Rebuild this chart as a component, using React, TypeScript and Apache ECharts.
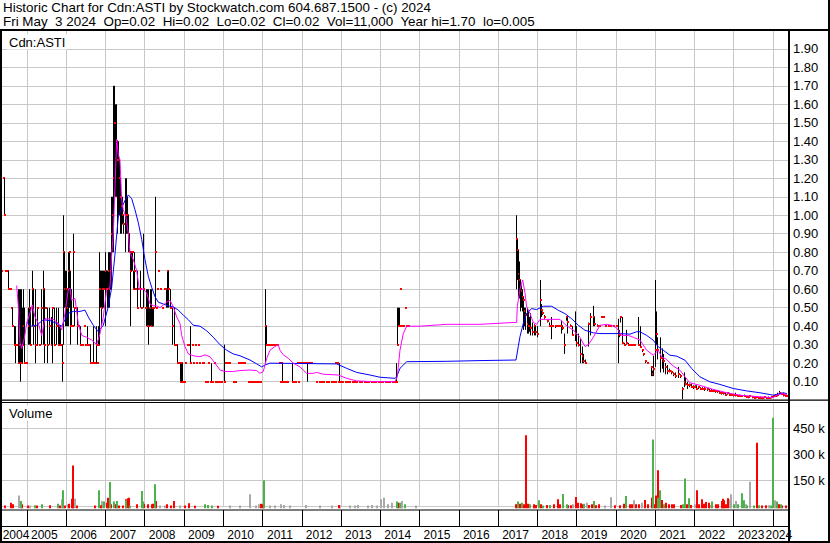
import React, { useEffect, useRef } from "react";
import * as echarts from "echarts";

const FONT = 'Arial, "Liberation Sans", Helvetica, sans-serif';

const TITLE = "Historic Chart for Cdn:ASTI by Stockwatch.com 604.687.1500 - (c) 2024";
const QUOTE_LINE =
  "Fri May  3 2024  Op=0.02  Hi=0.02  Lo=0.02  Cl=0.02  Vol=11,000  Year hi=1.70  lo=0.005";
const SYMBOL = "Cdn:ASTI";
const VOLUME_TITLE = "Volume";

// visible time window (fractional years)
const X_START = 2004.32;
const X_END = 2024.417;

const YEARS = [
  2004, 2005, 2006, 2007, 2008, 2009, 2010, 2011, 2012, 2013, 2014, 2015, 2016, 2017, 2018, 2019,
  2020, 2021, 2022, 2023, 2024,
];

// [time, high, low, close]
const PRICE_BARS: number[][] = [
  [2004.35, 0.8, 0.6, 0.7], [2004.39, 1.2, 1.2, 1.2], [2004.41, 1.2, 1.0, 1.0], [2004.45, 0.7, 0.7, 0.7],
  [2004.5, 0.7, 0.7, 0.7], [2004.52, 0.7, 0.6, 0.6], [2004.57, 0.6, 0.6, 0.6], [2004.6, 0.5, 0.5, 0.5],
  [2004.63, 0.5, 0.4, 0.4], [2004.68, 0.4, 0.3, 0.3], [2004.7, 0.4, 0.2, 0.3], [2004.73, 0.3, 0.3, 0.3],
  [2004.78, 0.6, 0.2, 0.2], [2004.8, 0.6, 0.2, 0.3], [2004.83, 0.6, 0.1, 0.2], [2004.85, 0.6, 0.2, 0.2],
  [2004.88, 0.5, 0.2, 0.3], [2004.91, 0.6, 0.3, 0.4], [2004.93, 0.5, 0.2, 0.2], [2004.98, 0.2, 0.2, 0.2],
  [2005.03, 0.5, 0.3, 0.4], [2005.06, 0.6, 0.3, 0.5], [2005.08, 0.5, 0.3, 0.3], [2005.14, 0.7, 0.4, 0.6],
  [2005.16, 0.6, 0.3, 0.4], [2005.21, 0.6, 0.2, 0.3], [2005.24, 0.3, 0.3, 0.3], [2005.26, 0.5, 0.3, 0.5],
  [2005.31, 0.3, 0.3, 0.3], [2005.36, 0.6, 0.3, 0.5], [2005.39, 0.5, 0.5, 0.5], [2005.41, 0.7, 0.3, 0.6],
  [2005.44, 0.6, 0.2, 0.3], [2005.47, 0.5, 0.5, 0.5], [2005.52, 0.5, 0.2, 0.3], [2005.57, 0.5, 0.3, 0.4],
  [2005.59, 0.4, 0.4, 0.4], [2005.62, 0.45, 0.3, 0.3], [2005.64, 0.5, 0.2, 0.5], [2005.7, 0.5, 0.3, 0.3],
  [2005.75, 0.5, 0.3, 0.4], [2005.8, 0.5, 0.3, 0.3], [2005.82, 0.4, 0.3, 0.4], [2005.85, 0.4, 0.3, 0.3],
  [2005.87, 0.3, 0.3, 0.3], [2005.9, 0.3, 0.1, 0.2], [2005.92, 1.0, 0.3, 0.8], [2005.95, 0.8, 0.5, 0.6],
  [2005.98, 0.7, 0.4, 0.5], [2006.0, 0.7, 0.4, 0.6], [2006.03, 0.6, 0.4, 0.5], [2006.05, 0.8, 0.4, 0.7],
  [2006.08, 0.8, 0.5, 0.8], [2006.1, 0.7, 0.3, 0.4], [2006.13, 0.6, 0.4, 0.4], [2006.15, 0.4, 0.4, 0.4],
  [2006.18, 0.9, 0.5, 0.8], [2006.2, 0.5, 0.4, 0.5], [2006.26, 0.5, 0.5, 0.5], [2006.28, 0.5, 0.3, 0.4],
  [2006.31, 0.4, 0.4, 0.4], [2006.36, 0.4, 0.3, 0.3], [2006.41, 0.3, 0.3, 0.3], [2006.46, 0.4, 0.4, 0.4],
  [2006.48, 0.3, 0.3, 0.3], [2006.54, 0.4, 0.3, 0.3], [2006.59, 0.3, 0.3, 0.3], [2006.61, 0.3, 0.2, 0.2],
  [2006.64, 0.2, 0.2, 0.2], [2006.69, 0.4, 0.2, 0.2], [2006.74, 0.2, 0.2, 0.2], [2006.76, 0.4, 0.2, 0.3],
  [2006.79, 0.2, 0.2, 0.2], [2006.82, 0.4, 0.3, 0.3], [2006.84, 0.8, 0.3, 0.6], [2006.87, 0.7, 0.5, 0.6],
  [2006.89, 0.7, 0.4, 0.5], [2006.92, 0.7, 0.5, 0.6], [2006.94, 0.7, 0.5, 0.6], [2006.97, 0.7, 0.6, 0.6],
  [2006.99, 0.8, 0.4, 0.7], [2007.02, 0.7, 0.6, 0.6], [2007.05, 0.7, 0.5, 0.6], [2007.07, 0.8, 0.5, 0.7],
  [2007.1, 0.8, 0.5, 0.6], [2007.12, 0.8, 0.6, 0.7], [2007.15, 1.1, 0.6, 0.9], [2007.17, 1.1, 0.8, 1.0],
  [2007.2, 1.7, 0.8, 1.2], [2007.22, 1.7, 1.1, 1.5], [2007.25, 1.6, 1.1, 1.5], [2007.27, 1.6, 1.1, 1.4],
  [2007.3, 1.4, 0.9, 1.3], [2007.33, 1.4, 1.0, 1.3], [2007.35, 1.3, 1.0, 1.2], [2007.38, 1.2, 0.9, 1.1],
  [2007.4, 1.1, 0.9, 1.05], [2007.43, 1.1, 0.95, 1.0], [2007.45, 1.0, 0.9, 0.95], [2007.5, 1.2, 0.8, 1.0],
  [2007.53, 1.2, 0.9, 1.0], [2007.55, 1.1, 0.9, 1.0], [2007.58, 1.0, 0.8, 0.9], [2007.61, 0.9, 0.8, 0.8],
  [2007.63, 0.8, 0.4, 0.7], [2007.66, 0.8, 0.7, 0.8], [2007.68, 0.8, 0.7, 0.8], [2007.71, 0.7, 0.6, 0.6],
  [2007.73, 0.8, 0.6, 0.7], [2007.76, 0.6, 0.6, 0.6], [2007.81, 0.7, 0.5, 0.5], [2007.84, 0.6, 0.6, 0.6],
  [2007.89, 0.7, 0.5, 0.6], [2007.91, 0.5, 0.5, 0.5], [2007.96, 0.9, 0.5, 0.6], [2008.01, 0.5, 0.5, 0.5],
  [2008.04, 0.6, 0.4, 0.5], [2008.06, 0.6, 0.4, 0.4], [2008.09, 0.6, 0.3, 0.4], [2008.12, 0.5, 0.4, 0.5],
  [2008.14, 0.6, 0.4, 0.5], [2008.17, 0.6, 0.4, 0.4], [2008.19, 0.5, 0.4, 0.5], [2008.22, 0.5, 0.4, 0.5],
  [2008.27, 1.1, 0.5, 0.8], [2008.29, 0.5, 0.5, 0.5], [2008.32, 0.6, 0.6, 0.6], [2008.34, 0.7, 0.7, 0.7],
  [2008.4, 0.6, 0.6, 0.6], [2008.45, 0.5, 0.5, 0.5], [2008.5, 0.6, 0.6, 0.6], [2008.55, 0.6, 0.5, 0.6],
  [2008.57, 0.7, 0.5, 0.7], [2008.6, 0.7, 0.5, 0.6], [2008.65, 0.6, 0.5, 0.5], [2008.7, 0.5, 0.3, 0.4],
  [2008.73, 0.4, 0.4, 0.4], [2008.75, 0.5, 0.3, 0.3], [2008.8, 0.3, 0.3, 0.3], [2008.83, 0.3, 0.2, 0.2],
  [2008.88, 0.2, 0.2, 0.2], [2008.9, 0.2, 0.1, 0.1], [2008.93, 0.2, 0.1, 0.2], [2008.96, 0.2, 0.1, 0.1],
  [2009.01, 0.1, 0.1, 0.1], [2009.04, 0.2, 0.2, 0.2], [2009.08, 0.3, 0.3, 0.3], [2009.12, 0.3, 0.3, 0.3],
  [2009.16, 0.4, 0.2, 0.2], [2009.2, 0.3, 0.3, 0.3], [2009.24, 0.2, 0.2, 0.2], [2009.29, 0.3, 0.3, 0.3],
  [2009.32, 0.2, 0.2, 0.2], [2009.36, 0.3, 0.3, 0.3], [2009.4, 0.2, 0.2, 0.2], [2009.46, 0.2, 0.2, 0.2],
  [2009.5, 0.2, 0.2, 0.2], [2009.54, 0.1, 0.1, 0.1], [2009.59, 0.1, 0.1, 0.1], [2009.63, 0.2, 0.2, 0.2],
  [2009.67, 0.1, 0.1, 0.1], [2009.69, 0.2, 0.1, 0.1], [2009.72, 0.1, 0.1, 0.1], [2009.77, 0.2, 0.2, 0.2],
  [2009.8, 0.1, 0.1, 0.1], [2009.85, 0.1, 0.1, 0.1], [2009.9, 0.1, 0.1, 0.1], [2009.95, 0.1, 0.1, 0.1],
  [2010.03, 0.3, 0.1, 0.1], [2010.05, 0.2, 0.2, 0.2], [2010.1, 0.2, 0.2, 0.2], [2010.15, 0.2, 0.2, 0.2],
  [2010.25, 0.1, 0.1, 0.1], [2010.31, 0.1, 0.1, 0.1], [2010.38, 0.2, 0.2, 0.2], [2010.43, 0.2, 0.2, 0.2],
  [2010.48, 0.2, 0.2, 0.2], [2010.53, 0.2, 0.2, 0.2], [2010.64, 0.1, 0.1, 0.1], [2010.69, 0.1, 0.1, 0.1],
  [2010.74, 0.1, 0.1, 0.1], [2010.79, 0.1, 0.1, 0.1], [2010.84, 0.1, 0.1, 0.1], [2010.89, 0.1, 0.1, 0.1],
  [2010.94, 0.1, 0.1, 0.1], [2011.07, 0.6, 0.2, 0.4], [2011.1, 0.4, 0.3, 0.3], [2011.13, 0.3, 0.3, 0.3],
  [2011.17, 0.3, 0.3, 0.3], [2011.22, 0.3, 0.3, 0.3], [2011.27, 0.3, 0.3, 0.3], [2011.32, 0.3, 0.3, 0.3],
  [2011.38, 0.3, 0.3, 0.3], [2011.43, 0.2, 0.2, 0.2], [2011.45, 0.1, 0.1, 0.1], [2011.48, 0.2, 0.2, 0.2],
  [2011.5, 0.2, 0.1, 0.1], [2011.54, 0.1, 0.1, 0.1], [2011.58, 0.1, 0.1, 0.1], [2011.62, 0.1, 0.1, 0.1],
  [2011.76, 0.2, 0.1, 0.1], [2011.8, 0.1, 0.1, 0.1], [2011.84, 0.1, 0.1, 0.1], [2011.89, 0.2, 0.2, 0.2],
  [2011.92, 0.1, 0.1, 0.1], [2011.94, 0.2, 0.2, 0.2], [2011.99, 0.2, 0.2, 0.2], [2012.04, 0.2, 0.2, 0.2],
  [2012.09, 0.2, 0.2, 0.2], [2012.14, 0.2, 0.1, 0.2], [2012.19, 0.2, 0.2, 0.2], [2012.24, 0.2, 0.2, 0.2],
  [2012.38, 0.1, 0.1, 0.1], [2012.44, 0.1, 0.1, 0.1], [2012.5, 0.1, 0.1, 0.1], [2012.56, 0.1, 0.1, 0.1],
  [2012.62, 0.1, 0.1, 0.1], [2012.68, 0.1, 0.1, 0.1], [2012.74, 0.1, 0.1, 0.1], [2012.8, 0.1, 0.1, 0.1],
  [2012.85, 0.2, 0.2, 0.2], [2012.86, 0.1, 0.1, 0.1], [2012.9, 0.2, 0.2, 0.2], [2012.92, 0.1, 0.1, 0.1],
  [2012.95, 0.2, 0.1, 0.1], [2012.98, 0.1, 0.1, 0.1], [2013.04, 0.1, 0.1, 0.1], [2013.1, 0.1, 0.1, 0.1],
  [2013.16, 0.1, 0.1, 0.1], [2013.22, 0.1, 0.1, 0.1], [2013.28, 0.1, 0.1, 0.1], [2013.34, 0.1, 0.1, 0.1],
  [2013.4, 0.1, 0.1, 0.1], [2013.46, 0.1, 0.1, 0.1], [2013.52, 0.1, 0.1, 0.1], [2013.58, 0.1, 0.1, 0.1],
  [2013.64, 0.1, 0.1, 0.1], [2013.7, 0.1, 0.1, 0.1], [2013.76, 0.1, 0.1, 0.1], [2013.82, 0.1, 0.1, 0.1],
  [2013.88, 0.1, 0.1, 0.1], [2013.94, 0.1, 0.1, 0.1], [2014.0, 0.1, 0.1, 0.1], [2014.06, 0.1, 0.1, 0.1],
  [2014.12, 0.1, 0.1, 0.1], [2014.18, 0.1, 0.1, 0.1], [2014.24, 0.1, 0.1, 0.1], [2014.3, 0.1, 0.1, 0.1],
  [2014.36, 0.1, 0.1, 0.1], [2014.41, 0.2, 0.1, 0.1], [2014.43, 0.5, 0.3, 0.3], [2014.46, 0.5, 0.4, 0.4],
  [2014.48, 0.5, 0.4, 0.4], [2014.5, 0.6, 0.6, 0.6], [2014.53, 0.4, 0.4, 0.4], [2014.58, 0.4, 0.4, 0.4],
  [2014.64, 0.5, 0.5, 0.5], [2014.66, 0.4, 0.4, 0.4], [2014.71, 0.4, 0.4, 0.4],
  [2017.46, 1.0, 0.6, 0.87], [2017.48, 0.87, 0.65, 0.81], [2017.51, 0.81, 0.56, 0.68], [2017.53, 0.75, 0.55, 0.65],
  [2017.56, 0.65, 0.48, 0.61], [2017.59, 0.62, 0.5, 0.59], [2017.61, 0.6, 0.48, 0.56], [2017.64, 0.56, 0.38, 0.54],
  [2017.67, 0.5, 0.4, 0.48], [2017.7, 0.5, 0.38, 0.46], [2017.74, 0.5, 0.36, 0.41], [2017.77, 0.48, 0.36, 0.4],
  [2017.8, 0.45, 0.37, 0.4], [2017.83, 0.47, 0.35, 0.39], [2017.86, 0.42, 0.35, 0.37], [2017.92, 0.41, 0.35, 0.4],
  [2017.95, 0.4, 0.35, 0.37], [2017.99, 0.4, 0.34, 0.36], [2018.07, 0.65, 0.4, 0.54], [2018.1, 0.52, 0.45, 0.49],
  [2018.13, 0.48, 0.46, 0.47], [2018.18, 0.46, 0.44, 0.45], [2018.25, 0.43, 0.42, 0.43], [2018.31, 0.42, 0.4, 0.4],
  [2018.35, 0.45, 0.33, 0.4], [2018.39, 0.4, 0.4, 0.4], [2018.45, 0.4, 0.39, 0.4], [2018.51, 0.4, 0.4, 0.4],
  [2018.56, 0.4, 0.4, 0.4], [2018.6, 0.43, 0.36, 0.4], [2018.64, 0.4, 0.38, 0.39], [2018.69, 0.36, 0.25, 0.3],
  [2018.74, 0.45, 0.43, 0.45], [2018.77, 0.45, 0.36, 0.42], [2018.84, 0.41, 0.4, 0.4], [2018.9, 0.4, 0.35, 0.35],
  [2018.97, 0.48, 0.32, 0.36], [2019.0, 0.4, 0.29, 0.31], [2019.04, 0.36, 0.29, 0.3], [2019.09, 0.33, 0.2, 0.25],
  [2019.14, 0.29, 0.2, 0.24], [2019.18, 0.25, 0.2, 0.21], [2019.22, 0.22, 0.2, 0.2], [2019.3, 0.42, 0.29, 0.41],
  [2019.35, 0.47, 0.35, 0.45], [2019.43, 0.51, 0.4, 0.45], [2019.46, 0.45, 0.4, 0.41], [2019.53, 0.41, 0.4, 0.4],
  [2019.59, 0.4, 0.4, 0.4], [2019.62, 0.45, 0.45, 0.45], [2019.67, 0.45, 0.45, 0.45], [2019.73, 0.4, 0.4, 0.4],
  [2019.8, 0.4, 0.4, 0.4], [2019.87, 0.4, 0.4, 0.4], [2019.93, 0.4, 0.4, 0.4], [2020.0, 0.4, 0.4, 0.4],
  [2020.06, 0.44, 0.2, 0.36], [2020.09, 0.38, 0.34, 0.35], [2020.12, 0.45, 0.42, 0.45], [2020.16, 0.45, 0.31, 0.31],
  [2020.21, 0.31, 0.3, 0.3], [2020.26, 0.38, 0.3, 0.31], [2020.32, 0.31, 0.3, 0.3], [2020.37, 0.3, 0.3, 0.3],
  [2020.42, 0.3, 0.3, 0.3], [2020.47, 0.3, 0.3, 0.3], [2020.57, 0.45, 0.3, 0.3], [2020.62, 0.4, 0.29, 0.29],
  [2020.67, 0.27, 0.26, 0.27], [2020.7, 0.25, 0.24, 0.25], [2020.74, 0.21, 0.2, 0.21], [2020.8, 0.2, 0.2, 0.2],
  [2020.9, 0.18, 0.13, 0.18], [2020.93, 0.16, 0.13, 0.14], [2020.96, 0.24, 0.13, 0.17], [2021.01, 0.65, 0.18, 0.27],
  [2021.04, 0.48, 0.3, 0.36], [2021.06, 0.34, 0.22, 0.27], [2021.12, 0.34, 0.15, 0.23], [2021.17, 0.28, 0.17, 0.22],
  [2021.22, 0.25, 0.15, 0.21], [2021.27, 0.2, 0.14, 0.18], [2021.32, 0.19, 0.14, 0.16], [2021.37, 0.17, 0.15, 0.16],
  [2021.42, 0.16, 0.14, 0.15], [2021.47, 0.15, 0.13, 0.14], [2021.52, 0.15, 0.12, 0.13], [2021.58, 0.18, 0.12, 0.14],
  [2021.63, 0.14, 0.12, 0.13], [2021.69, 0.07, 0.005, 0.06], [2021.74, 0.15, 0.07, 0.1], [2021.77, 0.12, 0.08, 0.09],
  [2021.82, 0.1, 0.06, 0.08], [2021.86, 0.09, 0.07, 0.08], [2021.91, 0.09, 0.07, 0.07], [2021.96, 0.08, 0.06, 0.07],
  [2022.01, 0.08, 0.07, 0.07], [2022.06, 0.08, 0.06, 0.06], [2022.11, 0.07, 0.06, 0.07], [2022.16, 0.07, 0.06, 0.06],
  [2022.21, 0.07, 0.06, 0.06], [2022.26, 0.07, 0.05, 0.06], [2022.32, 0.06, 0.05, 0.06], [2022.37, 0.06, 0.05, 0.05],
  [2022.42, 0.06, 0.05, 0.05], [2022.47, 0.06, 0.05, 0.05], [2022.53, 0.05, 0.04, 0.05], [2022.58, 0.05, 0.04, 0.05],
  [2022.63, 0.05, 0.04, 0.04], [2022.68, 0.05, 0.03, 0.04], [2022.73, 0.04, 0.03, 0.04], [2022.79, 0.04, 0.03, 0.03],
  [2022.84, 0.04, 0.03, 0.04], [2022.89, 0.04, 0.03, 0.03], [2022.94, 0.03, 0.03, 0.03], [2023.0, 0.03, 0.02, 0.03],
  [2023.05, 0.04, 0.02, 0.03], [2023.1, 0.03, 0.02, 0.02], [2023.15, 0.03, 0.02, 0.02], [2023.2, 0.02, 0.015, 0.02],
  [2023.26, 0.03, 0.02, 0.02], [2023.31, 0.02, 0.015, 0.015], [2023.36, 0.02, 0.01, 0.015], [2023.41, 0.02, 0.015, 0.02],
  [2023.47, 0.02, 0.01, 0.015], [2023.52, 0.02, 0.01, 0.01], [2023.57, 0.02, 0.01, 0.015], [2023.62, 0.015, 0.01, 0.01],
  [2023.67, 0.02, 0.01, 0.01], [2023.72, 0.015, 0.005, 0.01], [2023.77, 0.02, 0.01, 0.015], [2023.82, 0.015, 0.01, 0.01],
  [2023.87, 0.02, 0.01, 0.01], [2023.92, 0.015, 0.01, 0.01], [2023.97, 0.02, 0.01, 0.015], [2024.02, 0.02, 0.015, 0.02],
  [2024.07, 0.03, 0.02, 0.025], [2024.12, 0.04, 0.02, 0.03], [2024.17, 0.05, 0.03, 0.04], [2024.22, 0.04, 0.03, 0.035],
  [2024.27, 0.04, 0.02, 0.03], [2024.31, 0.03, 0.02, 0.02], [2024.34, 0.02, 0.02, 0.02],
];

// short moving average (magenta)
const MA_SHORT: number[][] = [
  [2004.745, 0.62], [2004.786, 0.51], [2004.829, 0.31], [2004.873, 0.28], [2004.931, 0.325], [2005.0, 0.415],
  [2005.084, 0.47], [2005.143, 0.515], [2005.211, 0.45], [2005.296, 0.415], [2005.382, 0.35], [2005.466, 0.44],
  [2005.55, 0.44], [2005.678, 0.437], [2005.805, 0.415], [2005.891, 0.38], [2005.976, 0.47], [2006.06, 0.6],
  [2006.103, 0.605], [2006.146, 0.54], [2006.23, 0.55], [2006.314, 0.415], [2006.401, 0.35], [2006.528, 0.34],
  [2006.656, 0.325], [2006.783, 0.3], [2006.867, 0.36], [2006.951, 0.45], [2007.038, 0.6], [2007.122, 0.61],
  [2007.165, 0.79], [2007.206, 0.9], [2007.249, 1.15], [2007.292, 1.41], [2007.333, 1.33], [2007.376, 1.3],
  [2007.42, 1.08], [2007.46, 1.03], [2007.529, 0.99], [2007.588, 0.9], [2007.631, 0.8], [2007.715, 0.76],
  [2007.802, 0.7], [2007.868, 0.6], [2007.97, 0.6], [2008.056, 0.58], [2008.141, 0.52], [2008.225, 0.51],
  [2008.311, 0.51], [2008.395, 0.5], [2008.479, 0.515], [2008.566, 0.53], [2008.65, 0.54], [2008.734, 0.505],
  [2008.82, 0.45], [2008.905, 0.415], [2008.948, 0.35], [2009.032, 0.29], [2009.116, 0.25], [2009.243, 0.24],
  [2009.414, 0.235], [2009.541, 0.245], [2009.669, 0.235], [2009.796, 0.2], [2009.923, 0.163], [2010.051, 0.155],
  [2010.262, 0.155], [2010.433, 0.16], [2010.688, 0.163], [2010.858, 0.16], [2010.942, 0.145], [2011.026, 0.155],
  [2011.113, 0.226], [2011.197, 0.27], [2011.324, 0.29], [2011.408, 0.3], [2011.452, 0.27], [2011.536, 0.245],
  [2011.663, 0.226], [2011.79, 0.2], [2011.961, 0.18], [2012.132, 0.145], [2012.3, 0.145], [2012.387, 0.15],
  [2012.555, 0.14], [2012.937, 0.136], [2013.151, 0.118], [2013.405, 0.104], [2013.828, 0.1], [2014.381, 0.1],
  [2014.44, 0.127], [2014.508, 0.27], [2014.592, 0.36], [2014.679, 0.4], [2015.018, 0.4], [2015.698, 0.41],
  [2016.546, 0.41], [2017.394, 0.42], [2017.48, 0.42], [2017.496, 0.505], [2017.564, 0.6], [2017.633, 0.65],
  [2017.692, 0.58], [2017.735, 0.505], [2017.819, 0.47], [2017.904, 0.42], [2017.99, 0.41], [2018.074, 0.437],
  [2018.583, 0.437], [2018.71, 0.41], [2018.838, 0.39], [2018.922, 0.38], [2019.093, 0.34], [2019.22, 0.29],
  [2019.305, 0.3], [2019.432, 0.34], [2019.602, 0.405], [2019.773, 0.41], [2019.9, 0.405], [2020.028, 0.39],
  [2020.155, 0.35], [2020.323, 0.35], [2020.451, 0.34], [2020.621, 0.325], [2020.792, 0.27], [2020.96, 0.243],
  [2021.087, 0.27], [2021.174, 0.234], [2021.301, 0.22], [2021.47, 0.184], [2021.639, 0.162], [2021.767, 0.126],
  [2021.894, 0.094], [2022.149, 0.08], [2022.488, 0.058], [2022.829, 0.04], [2023.168, 0.027], [2023.677, 0.018],
  [2024.016, 0.013], [2024.103, 0.027], [2024.271, 0.036], [2024.364, 0.03],
];

// long moving average (blue)
const MA_LONG: number[][] = [
  [2005.0, 0.42], [2005.041, 0.415], [2005.127, 0.4], [2005.255, 0.405], [2005.423, 0.435], [2005.594, 0.43],
  [2005.764, 0.415], [2005.891, 0.4], [2005.976, 0.435], [2006.06, 0.47], [2006.187, 0.48], [2006.358, 0.48],
  [2006.485, 0.487], [2006.569, 0.45], [2006.696, 0.405], [2006.824, 0.37], [2006.951, 0.405], [2007.078, 0.505],
  [2007.165, 0.61], [2007.249, 0.79], [2007.333, 0.99], [2007.42, 1.04], [2007.504, 1.08], [2007.588, 1.11],
  [2007.674, 1.09], [2007.758, 1.03], [2007.843, 0.96], [2007.929, 0.87], [2008.013, 0.76], [2008.097, 0.67],
  [2008.184, 0.61], [2008.268, 0.56], [2008.352, 0.53], [2008.479, 0.52], [2008.607, 0.51], [2008.734, 0.505],
  [2008.861, 0.487], [2008.989, 0.46], [2009.116, 0.435], [2009.243, 0.405], [2009.414, 0.4], [2009.585, 0.375],
  [2009.753, 0.34], [2009.923, 0.3], [2010.094, 0.27], [2010.262, 0.25], [2010.433, 0.24], [2010.688, 0.217],
  [2010.858, 0.196], [2010.986, 0.18], [2011.07, 0.19], [2011.197, 0.2], [2012.896, 0.196], [2013.151, 0.172],
  [2013.405, 0.15], [2013.744, 0.136], [2013.999, 0.124], [2014.381, 0.118], [2014.424, 0.127], [2014.508, 0.172],
  [2014.679, 0.208], [2015.698, 0.21], [2016.546, 0.214], [2017.463, 0.217], [2017.521, 0.29], [2017.564, 0.343],
  [2017.649, 0.415], [2017.735, 0.47], [2017.862, 0.495], [2017.99, 0.49], [2018.158, 0.508], [2018.372, 0.508],
  [2018.54, 0.486], [2018.71, 0.468], [2018.881, 0.44], [2019.049, 0.405], [2019.22, 0.378], [2019.432, 0.364],
  [2019.602, 0.36], [2020.111, 0.36], [2020.366, 0.357], [2020.537, 0.37], [2020.621, 0.37], [2020.792, 0.35],
  [2020.96, 0.324], [2021.087, 0.288], [2021.215, 0.27], [2021.385, 0.243], [2021.555, 0.238], [2021.767, 0.216],
  [2021.938, 0.171], [2022.149, 0.126], [2022.404, 0.099], [2022.658, 0.085], [2022.997, 0.063], [2023.338, 0.05],
  [2023.677, 0.04], [2024.016, 0.027], [2024.271, 0.04], [2024.364, 0.035],
];

// daily volume in thousands of shares: [time, volume]
const VOLUME_DOWN: number[][] = [
  [2004.45, 5], [2004.6, 20], [2004.66, 12], [2004.88, 12], [2005.03, 4], [2005.26, 4], [2005.59, 6],
  [2005.85, 4], [2005.98, 4], [2006.08, 15], [2006.15, 44], [2006.19, 236], [2006.28, 4], [2006.74, 4],
  [2006.89, 6], [2007.04, 20], [2007.06, 50], [2007.16, 12], [2007.27, 12], [2007.35, 4], [2007.45, 4],
  [2007.52, 40], [2007.57, 46], [2007.6, 50], [2007.82, 12], [2008.0, 15], [2008.09, 12], [2008.18, 12],
  [2008.22, 15], [2008.29, 30], [2008.57, 12], [2008.68, 4], [2008.75, 30], [2009.03, 4], [2009.13, 17],
  [2009.29, 3], [2009.87, 3], [2010.97, 14], [2011.02, 12], [2012.95, 8], [2014.46, 21], [2017.46, 12],
  [2017.56, 15], [2017.67, 12], [2017.73, 410], [2017.77, 15], [2017.92, 12], [2017.97, 8], [2018.1, 12],
  [2018.25, 8], [2018.43, 12], [2018.53, 40], [2018.58, 12], [2018.79, 6], [2018.86, 6], [2018.99, 54],
  [2019.04, 21], [2019.12, 17], [2019.17, 12], [2019.32, 8], [2019.4, 12], [2019.5, 6], [2019.58, 12],
  [2019.98, 6], [2020.11, 6], [2020.21, 15], [2020.37, 12], [2020.42, 12], [2020.52, 12], [2020.6, 12],
  [2020.75, 36], [2020.83, 12], [2020.92, 50], [2021.0, 12], [2021.04, 63], [2021.09, 208], [2021.18, 36],
  [2021.28, 21], [2021.36, 12], [2021.44, 12], [2021.49, 12], [2021.67, 8], [2021.82, 12], [2021.92, 8],
  [2022.07, 92], [2022.12, 12], [2022.2, 40], [2022.25, 15], [2022.3, 25], [2022.38, 21], [2022.56, 12],
  [2022.61, 12], [2022.7, 30], [2022.73, 44], [2022.77, 35], [2022.81, 12], [2022.86, 46], [2023.59, 367],
  [2023.73, 4], [2023.83, 6], [2024.16, 12], [2024.24, 4], [2024.34, 4],
];

const VOLUME_UP: number[][] = [
  [2004.85, 30], [2005.21, 6], [2005.38, 12], [2005.8, 15], [2005.92, 92], [2006.84, 92], [2006.97, 27],
  [2007.12, 140], [2007.22, 27], [2007.29, 30], [2007.53, 35], [2007.63, 3], [2007.94, 88], [2007.97, 27],
  [2008.27, 127], [2009.54, 12], [2009.62, 8], [2009.72, 4], [2011.04, 150], [2014.43, 27], [2014.51, 21],
  [2014.64, 12], [2017.51, 27], [2017.61, 21], [2017.82, 12], [2018.05, 35], [2018.15, 4], [2018.33, 8],
  [2018.66, 71], [2018.76, 12], [2019.19, 15], [2019.45, 30], [2020.26, 60], [2020.96, 386], [2021.07, 50],
  [2021.13, 92], [2021.23, 12], [2021.72, 12], [2021.77, 161], [2021.87, 46], [2022.45, 27], [2023.01, 12],
  [2023.13, 12], [2023.21, 75], [2023.27, 35], [2023.35, 4], [2023.53, 4], [2023.65, 6], [2023.96, 4],
  [2024.02, 511], [2024.11, 27], [2024.21, 12],
];

const VOLUME_FLAT: number[][] = [
  [2004.8, 63], [2005.08, 4], [2005.89, 40], [2006.05, 12], [2006.17, 44], [2006.24, 44], [2006.92, 30],
  [2007.1, 35], [2008.4, 4], [2008.52, 4], [2008.9, 4], [2010.18, 4], [2010.43, 4], [2010.69, 70],
  [2010.84, 4], [2010.92, 12], [2011.01, 12], [2011.2, 4], [2011.32, 4], [2011.48, 12], [2011.55, 8],
  [2011.71, 4], [2012.11, 8], [2012.47, 4], [2012.78, 4], [2012.98, 4], [2013.23, 4], [2013.36, 4],
  [2013.44, 8], [2013.69, 4], [2013.79, 8], [2013.92, 4], [2014.02, 40], [2014.1, 50], [2014.2, 12],
  [2014.3, 21], [2014.55, 30], [2014.57, 27], [2014.92, 4], [2017.49, 12], [2017.92, 4], [2018.91, 12],
  [2019.27, 21], [2019.73, 4], [2019.88, 52], [2020.47, 35], [2020.67, 21], [2022.02, 12], [2022.4, 8],
  [2022.92, 40], [2022.95, 69], [2023.06, 30], [2023.32, 12], [2023.42, 142], [2023.91, 6], [2024.06, 35],
  [2024.14, 12],
];

function App() {
  const ref = useRef<HTMLDivElement>(null);

  useEffect(() => {
    document.body.style.margin = "0";
    const chart = echarts.init(ref.current!, null, { renderer: "svg" });

    const xAxisFor = (gridIndex: number) => ({
      type: "value",
      gridIndex,
      min: X_START,
      max: X_END,
      axisLine: { show: false },
      axisTick: { show: false },
      axisLabel: { show: false },
      splitLine: { show: false },
    });

    const hiddenY = (gridIndex: number) => ({
      type: "value",
      gridIndex,
      min: 0,
      max: 1,
      show: false,
      splitLine: { show: false },
    });

    // vertical year dividers, placed by the x scale
    const yearBoundaries = YEARS.filter((y) => y > X_START).map((y) => [y, 0]);
    const dividerRender = (color: string) => (params: any, api: any) => {
      const p = api.coord([api.value(0), 0]);
      const cs = params.coordSys;
      const x = Math.round(p[0]) + 0.5;
      return {
        type: "line",
        shape: { x1: x, y1: cs.y, x2: x, y2: cs.y + cs.height },
        style: { stroke: color, lineWidth: 1 },
      };
    };
    const dividerSeries = (idx: number, color: string) => ({
      type: "custom",
      name: `dividers-${idx}`,
      xAxisIndex: idx,
      yAxisIndex: idx,
      data: yearBoundaries,
      renderItem: dividerRender(color),
      silent: true,
      z: 1,
    });

    const barsRender = (params: any, api: any) => {
      const t = api.value(0);
      const hi = api.coord([t, api.value(1)]);
      const lo = api.coord([t, api.value(2)]);
      const cl = api.coord([t, api.value(3)]);
      const x = Math.round(hi[0]) + 0.5;
      const children: any[] = [];
      if (lo[1] - hi[1] >= 1) {
        children.push({
          type: "line",
          shape: { x1: x, y1: hi[1], x2: x, y2: lo[1] },
          style: { stroke: "#000", lineWidth: 1 },
        });
      }
      children.push({
        type: "rect",
        shape: { x: x - 0.5, y: Math.round(cl[1]) - 1, width: 2, height: 2 },
        style: { fill: "#ff0000" },
      });
      return { type: "group", children };
    };

    const volumeRender = (color: string) => (params: any, api: any) => {
      const t = api.value(0);
      const base = api.coord([t, 0]);
      const top = api.coord([t, api.value(1)]);
      const x = Math.round(base[0]) - 1;
      const bottom = base[1] + 2;
      return {
        type: "rect",
        shape: { x, y: top[1], width: 2, height: Math.max(1, bottom - top[1]) },
        style: { fill: color },
      };
    };

    const yearLabels = YEARS.map((y) => {
      const a = Math.max(y, X_START);
      const b = Math.min(y + 1, X_END);
      return [(a + b) / 2 - 0.05, 0.5];
    });

    const rect = (x: number, y: number, w: number, h: number) => ({
      type: "rect",
      z: 100,
      shape: { x, y, width: w, height: h },
      style: { fill: "#000" },
      silent: true,
    });

    chart.setOption({
      animation: false,
      backgroundColor: "#fff",
      grid: [
        { left: 0, top: 30.35, width: 789, height: 369.8 },
        { left: 0, top: 402.3, width: 789, height: 104 },
        { left: 0, top: 510, width: 789, height: 16.5 },
        { left: 0, top: 527, width: 789, height: 15 },
      ],
      xAxis: [xAxisFor(0), xAxisFor(1), xAxisFor(2), xAxisFor(3)],
      yAxis: [
        {
          type: "value",
          gridIndex: 0,
          position: "right",
          min: 0,
          max: 2,
          interval: 0.1,
          axisLine: { show: false },
          axisTick: { show: false },
          splitLine: { lineStyle: { color: "#c8c8c8", width: 1 } },
          axisLabel: {
            margin: 4,
            fontFamily: FONT,
            fontSize: 13,
            color: "#000",
            formatter: (v: number) => (v <= 0.001 || v >= 1.999 ? "" : v.toFixed(2)),
          },
        },
        {
          type: "value",
          gridIndex: 1,
          position: "right",
          min: 0,
          max: 600,
          interval: 150,
          axisLine: { show: false },
          axisTick: { show: false },
          splitLine: { lineStyle: { color: "#c8c8c8", width: 1 } },
          axisLabel: {
            margin: 4,
            fontFamily: FONT,
            fontSize: 13,
            color: "#000",
            formatter: (v: number) => (v <= 0 || v >= 600 ? "" : `${v} k`),
          },
        },
        hiddenY(2),
        hiddenY(3),
      ],
      series: [
        dividerSeries(0, "#c8c8c8"),
        dividerSeries(1, "#c8c8c8"),
        dividerSeries(2, "#000"),
        {
          type: "custom",
          name: "price",
          xAxisIndex: 0,
          yAxisIndex: 0,
          data: PRICE_BARS,
          encode: { x: 0, y: [1, 2, 3] },
          renderItem: barsRender,
          z: 2,
        },
        {
          type: "line",
          name: "long average",
          xAxisIndex: 0,
          yAxisIndex: 0,
          data: MA_LONG,
          showSymbol: false,
          lineStyle: { color: "#0000ff", width: 1 },
          z: 3,
        },
        {
          type: "line",
          name: "short average",
          xAxisIndex: 0,
          yAxisIndex: 0,
          data: MA_SHORT,
          showSymbol: false,
          lineStyle: { color: "#ff00ff", width: 1 },
          z: 4,
        },
        {
          type: "custom",
          name: "volume flat",
          xAxisIndex: 1,
          yAxisIndex: 1,
          data: VOLUME_FLAT,
          renderItem: volumeRender("#a9a9a9"),
          z: 2,
        },
        {
          type: "custom",
          name: "volume down",
          xAxisIndex: 1,
          yAxisIndex: 1,
          data: VOLUME_DOWN,
          renderItem: volumeRender("#ff0000"),
          z: 3,
        },
        {
          type: "custom",
          name: "volume up",
          xAxisIndex: 1,
          yAxisIndex: 1,
          data: VOLUME_UP,
          renderItem: volumeRender("#4cb34c"),
          z: 4,
        },
        {
          type: "custom",
          name: "years",
          xAxisIndex: 3,
          yAxisIndex: 3,
          data: yearLabels,
          renderItem: (params: any, api: any) => {
            const p = api.coord([api.value(0), api.value(1)]);
            // keep the first, partly visible year's label inside the frame
            const x = Math.max(p[0], 16);
            return {
              type: "text",
              x,
              y: p[1],
              style: {
                text: String(YEARS[params.dataIndex]),
                font: `12px ${FONT}`,
                fill: "#000",
                align: "center",
                verticalAlign: "middle",
              },
            };
          },
        },
      ],
      graphic: [
        {
          type: "text",
          z: 100,
          x: 3,
          y: 7.5,
          style: { text: TITLE, font: `13.4px ${FONT}`, fill: "#000", verticalAlign: "middle" },
        },
        {
          type: "text",
          z: 100,
          x: 3,
          y: 21.5,
          style: { text: QUOTE_LINE, font: `13.4px ${FONT}`, fill: "#000", verticalAlign: "middle" },
        },
        {
          type: "text",
          z: 50,
          x: 7,
          y: 42,
          style: {
            text: SYMBOL,
            font: `13px ${FONT}`,
            fill: "#000",
            verticalAlign: "middle",
            backgroundColor: "#fff",
            padding: [1, 2, 1, 2],
          },
        },
        {
          type: "text",
          z: 50,
          x: 7,
          y: 413,
          style: {
            text: VOLUME_TITLE,
            font: `13px ${FONT}`,
            fill: "#000",
            verticalAlign: "middle",
            backgroundColor: "#fff",
            padding: [1, 2, 1, 2],
          },
        },
        // frame
        rect(0, 29, 830, 2),
        rect(0, 30, 2, 513),
        rect(828, 0, 2, 543),
        rect(788, 30, 2, 513),
        rect(0, 399.5, 830, 1.2),
        rect(0, 402, 789, 1),
        rect(0, 509.5, 789, 1),
        rect(0, 526, 789, 1),
        rect(0, 541, 830, 2),
      ],
    });

    return () => chart.dispose();
  }, []);

  return (
    <div
      ref={ref}
      style={{ position: "absolute", left: 0, top: 0, width: 830, height: 543, background: "#fff" }}
    />
  );
}

export default App;
